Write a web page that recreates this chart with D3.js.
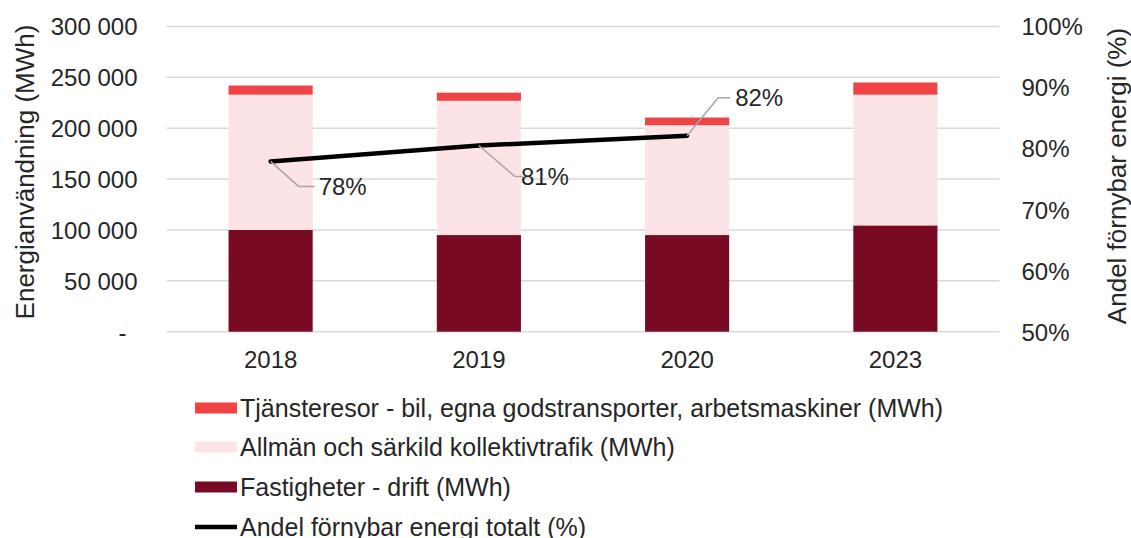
<!DOCTYPE html>
<html><head><meta charset="utf-8">
<script src="https://cdn.jsdelivr.net/npm/d3@7"></script>
<style>body{margin:0;background:#fff}svg{display:block;font-family:"Liberation Sans",Arial,sans-serif}</style>
</head><body><svg id="c" width="1131" height="538"></svg>
<script>
const years = ["2018","2019","2020","2023"];
const fastigheter = [100000, 95000, 95000, 104500];
const kollektiv = [133000, 132000, 108000, 128500];
const tjanste = [9000, 8000, 7500, 12000];
const andel = [0.779, 0.805, 0.821, null];
const andelLabels = ["78%","81%","82%",null];
const leftTicks = [0,50000,100000,150000,200000,250000,300000];
const rightTicks = [0.5,0.6,0.7,0.8,0.9,1.0];
const seriesNames = ["Tjänsteresor - bil, egna godstransporter, arbetsmaskiner (MWh)","Allmän och särkild kollektivtrafik (MWh)","Fastigheter - drift (MWh)","Andel förnybar energi totalt (%)"];
const colors = {tj:"#EF4346", ko:"#FCE4E6", fa:"#780A24"};

const svg = d3.select("#c");
const L=166.5, R=999.5, T=26.5, B=331.7;
const FS=24;
const x = d3.scaleBand().domain(years).range([L,R]).paddingInner(0.596).paddingOuter(0.298);
const y = d3.scaleLinear().domain([0,300000]).range([B,T]);
const y2 = d3.scaleLinear().domain([0.5,1.0]).range([B,T]);
const fmt = v => v===0 ? "-" : d3.format(",")(v).replace(/,/g," ");

// grid
svg.append("g").selectAll("line").data(leftTicks).join("line")
  .attr("x1",L).attr("x2",R).attr("y1",d=>y(d)).attr("y2",d=>y(d))
  .attr("stroke","#d9d9d9").attr("stroke-width",1.5);

// left axis
const la = svg.append("g").attr("transform",`translate(${L},0)`)
  .call(d3.axisLeft(y).tickValues(leftTicks).tickFormat(fmt).tickSize(0).tickPadding(29));
la.select(".domain").remove();
la.selectAll("text").attr("font-size",FS).attr("fill","#262626").attr("font-family","Liberation Sans, Arial").attr("dy","0.35em");
la.selectAll(".tick").filter(d=>d===0).select("text").attr("dx",-11);

// right axis
const ra = svg.append("g").attr("transform",`translate(${R},0)`)
  .call(d3.axisRight(y2).tickValues(rightTicks).tickFormat(d3.format(".0%")).tickSize(0).tickPadding(22));
ra.select(".domain").remove();
ra.selectAll("text").attr("font-size",FS).attr("fill","#262626").attr("font-family","Liberation Sans, Arial").attr("dy","0.35em");

// x axis
const xa = svg.append("g").attr("transform",`translate(0,${B})`)
  .call(d3.axisBottom(x).tickSize(0).tickPadding(19));
xa.select(".domain").remove();
xa.selectAll("text").attr("font-size",FS).attr("fill","#262626").attr("font-family","Liberation Sans, Arial");

// stacked bars
const data = years.map((yr,i)=>({year:yr, fa:fastigheter[i], ko:kollektiv[i], tj:tjanste[i]}));
const stack = d3.stack().keys(["fa","ko","tj"])(data);
svg.append("g").selectAll("g").data(stack).join("g").attr("fill",s=>colors[s.key])
  .selectAll("rect").data(s=>s).join("rect")
  .attr("x",d=>x(d.data.year)).attr("width",x.bandwidth())
  .attr("y",d=>y(d[1])).attr("height",d=>y(d[0])-y(d[1]));

// line
const pts = years.map((yr,i)=>({x:x(yr)+x.bandwidth()/2, v:andel[i], lab:andelLabels[i]})).filter(d=>d.v!=null);
svg.append("path").datum(pts)
  .attr("d",d3.line().x(d=>d.x).y(d=>y2(d.v)))
  .attr("fill","none").attr("stroke","#000").attr("stroke-width",4.5).attr("stroke-linecap","round");

// labels with leader lines
const offs = [{dx:28,dy:25,h:16,tx:48},{dx:36,dy:31,h:8,tx:42},{dx:31,dy:-38,h:12,tx:48}];
pts.forEach((p,i)=>{
  const o=offs[i]; const py=y2(p.v);
  svg.append("polyline").attr("points",`${p.x},${py} ${p.x+o.dx},${py+o.dy} ${p.x+o.dx+o.h},${py+o.dy}`)
    .attr("fill","none").attr("stroke","#a6a6a6").attr("stroke-width",1.5);
  svg.append("text").attr("x",p.x+o.tx).attr("y",py+o.dy).attr("dy","0.35em")
    .attr("font-size",FS).attr("fill","#262626").text(p.lab);
});

// axis titles
svg.append("text").attr("transform","translate(34,172) rotate(-90)").attr("text-anchor","middle")
  .attr("font-size",26).attr("fill","#262626").text("Energianvändning (MWh)");
svg.append("text").attr("transform","translate(1126,176) rotate(-90)").attr("text-anchor","middle")
  .attr("font-size",26).attr("fill","#262626").text("Andel förnybar energi (%)");

// legend
const lg = svg.append("g");
const rows=[408,447,487,527];
const legColors=[colors.tj, colors.ko, colors.fa];
seriesNames.forEach((n,i)=>{
  if(i<3) lg.append("rect").attr("x",195).attr("y",rows[i]-5.5).attr("width",42).attr("height",11).attr("fill",legColors[i]);
  else lg.append("line").attr("x1",195).attr("x2",237).attr("y1",rows[i]).attr("y2",rows[i]).attr("stroke","#000").attr("stroke-width",4.5);
  lg.append("text").attr("x",240).attr("y",rows[i]).attr("dy","0.35em").attr("font-size",25).attr("fill","#262626").text(n);
});
</script></body></html>
